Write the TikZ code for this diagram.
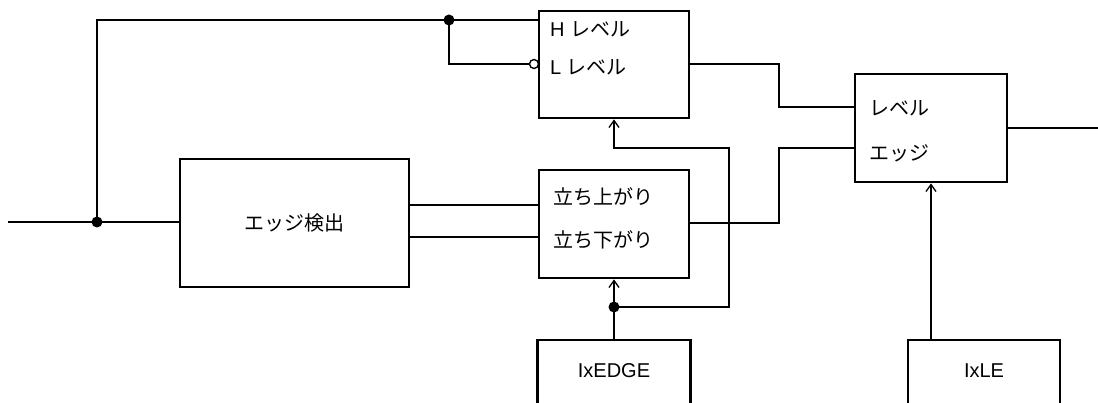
\documentclass[tikz,border=0pt]{standalone}
\usepackage{fontspec}
\setmainfont{Liberation Sans}
\newfontfamily\jp{Noto Sans CJK JP}
\usetikzlibrary{arrows.meta}

\begin{document}
\begin{tikzpicture}[x=1pt,y=-1pt,
    block/.style={draw,line width=2.8pt,rectangle,inner sep=0pt},
    lbl/.style={anchor=west,inner sep=0pt},
    wire/.style={line width=1.6pt},
    tip/.style={-{Straight Barb[length=7pt,width=10pt,line width=1.3pt]}},
    dot/.style={circle,fill,inner sep=0pt,minimum size=11pt},
    bubble/.style={circle,draw,fill=white,line width=1.4pt,inner sep=0pt,minimum size=9pt}]
    \tikzstyle{every node}=[font=\fontsize{20}{23}\selectfont]
    \clip (0,0) rectangle (1098,403);
    % blocks
    \node[block,minimum width=150pt,minimum height=107pt] (hl) at (614,64.5) {};
    \node[block,minimum width=229pt,minimum height=128pt] (det) at (294.5,223) {\jp エッジ検出};
    \node[block,minimum width=150pt,minimum height=108pt] (rf) at (614,224) {};
    \node[block,minimum width=152pt,minimum height=108pt] (le) at (931,128) {};
    \node[block,minimum width=153pt,minimum height=120pt] (ixedge) at (614,400) {};
    \node[block,minimum width=152pt,minimum height=120pt] (ixle) at (984,400) {};
    \node (ixedget) at (614,371) {IxEDGE};
    \node (ixlet) at (984,371) {IxLE};
    % inputs inside the blocks
    \node[lbl] (hlv) at (550,29) {H {\jp レベル}};
    \node[lbl] (llv) at (550,67) {L {\jp レベル}};
    \node[lbl] (up) at (553,197) {\jp 立ち上がり};
    \node[lbl] (down) at (553,240) {\jp 立ち下がり};
    \node[lbl] (lev) at (869,108) {\jp レベル};
    \node[lbl] (edg) at (869,153) {\jp エッジ};
    % junctions
    \coordinate (in) at (8,222);
    \coordinate (j1) at (97,222);
    \coordinate (j2) at (449,20);
    \coordinate (j3) at (614,307);
    \coordinate (out) at (1098,128);
    \node[bubble] (inv) at (534,64) {};
    % wiring
    \draw[wire] (in) -- (in -| det.west);
    \draw[wire] (j1) |- (j2) -- (j2 -| hl.west);
    \draw[wire] (j2) |- (inv.west);
    \draw[wire] (det.east |- 0,205) -- (rf.west |- 0,205);
    \draw[wire] (det.east |- 0,237) -- (rf.west |- 0,237);
    \draw[wire] (hl.east |- 0,64) -- (779,64) -- (779,107) -- (le.west |- 0,107);
    \draw[wire] (rf.east |- 0,223) -- (779,223) -- (779,148) -- (le.west |- 0,148);
    \draw[wire,tip] (j3) -| (729,148) -| (hl.south);
    \draw[wire,tip] (ixedge.north) -- (rf.south);
    \draw[wire,tip] (ixle.north -| le.south) -- (le.south);
    \draw[wire] (le.east) -- (out);
    \node[dot] at (j1) {};
    \node[dot] at (j2) {};
    \node[dot] at (j3) {};
\end{tikzpicture}
\end{document}
